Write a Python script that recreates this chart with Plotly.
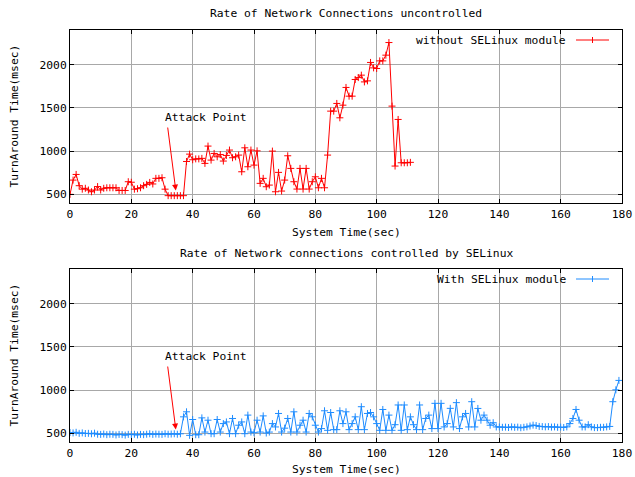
import plotly.graph_objects as go

# ---------------- data ----------------
top_time = list(range(0, 112))
top_values = [
    500, 665, 730, 600, 560, 570, 550, 530, 550, 590,
    550, 570, 576, 576, 576, 576, 545, 545, 545, 646,
    640, 560, 565, 576, 600, 615, 638, 620, 685, 685,
    692, 560, 485, 485, 485, 485, 485, 485, 880, 965,
    900, 910, 910, 916, 858, 1058, 896, 973, 934, 960,
    885, 950, 1012, 923, 934, 954, 761, 1038, 819, 1012,
    838, 1003, 627, 685, 588, 607, 1000, 530, 754, 538,
    665, 946, 800, 646, 561, 800, 561, 800, 561, 646,
    703, 576, 685, 576, 954, 1462, 1462, 1551, 1385, 1531,
    1736, 1635, 1635, 1828, 1850, 1878, 1800, 1812, 2025, 1962,
    1955, 2043, 2043, 2109, 2255, 1520, 827, 1366, 865, 865,
    865, 870,
]

bottom_time = list(range(0, 180))
bottom_values = [
    510, 505, 512, 500, 505, 498, 500, 495, 502, 490,
    488, 492, 485, 490, 488, 482, 488, 485, 480, 488,
    485, 490, 482, 488, 485, 490, 495, 488, 492, 490,
    488, 495, 490, 492, 495, 490, 495, 691, 749, 477,
    660, 484, 484, 679, 515, 652, 496, 496, 660, 515,
    613, 632, 496, 672, 496, 594, 632, 496, 711, 515,
    508, 652, 515, 702, 504, 515, 613, 574, 730, 515,
    560, 672, 515, 749, 515, 594, 652, 515, 730, 691,
    594, 515, 555, 761, 535, 741, 543, 543, 761, 613,
    749, 543, 613, 691, 543, 808, 543, 730, 741, 691,
    613, 535, 776, 535, 711, 535, 600, 828, 535, 828,
    543, 691, 600, 543, 828, 543, 672, 711, 555, 847,
    555, 847, 574, 613, 789, 574, 855, 555, 691, 730,
    574, 866, 574, 788, 652, 711, 652, 594, 623, 574,
    574, 570, 572, 568, 575, 570, 572, 565, 570, 575,
    585, 595, 590, 580, 578, 575, 578, 572, 575, 570,
    572, 568, 575, 613, 672, 776, 652, 574, 574, 600,
    574, 566, 566, 570, 570, 575, 580, 866, 1003, 1112,
]

x_ticks = [0, 20, 40, 60, 80, 100, 120, 140, 160, 180]
y_ticks = [500, 1000, 1500, 2000]

top_title = "Rate of Network Connections uncontrolled"
bottom_title = "Rate of Network connections controlled by SELinux"
top_legend = "without SELinux module"
bottom_legend = "With SELinux module"
x_title = "System Time(sec)"
y_title = "TurnAround Time(msec)"
attack_label = "Attack Point"
attack_text_pos = (30.2, 1390)
attack_arrow_tail = (31.8, 1290)
attack_arrow_head = (34.5, 545)

# ---------------- styling ----------------
W, H = 635, 477
FONT = "DejaVu Sans Mono"
FS = 11.3
RED = "#ff0000"
BLUE = "#1e8cff"

def px_x(p):
    return p / W

def px_y(p):
    return 1 - p / H

x_dom = [px_x(70), px_x(622)]
top_dom = [px_y(203), px_y(30)]
bot_dom = [px_y(442), px_y(269)]

fig = go.Figure()

fig.add_trace(go.Scatter(
    x=top_time, y=top_values, mode="lines+markers",
    line=dict(color=RED, width=1),
    marker=dict(symbol="cross-thin", size=5, line=dict(color=RED, width=1)),
    xaxis="x", yaxis="y", showlegend=False,
))
fig.add_trace(go.Scatter(
    x=bottom_time, y=bottom_values, mode="lines+markers",
    line=dict(color=BLUE, width=1),
    marker=dict(symbol="cross-thin", size=5, line=dict(color=BLUE, width=1)),
    xaxis="x2", yaxis="y2", showlegend=False,
))

axis_common = dict(
    showline=True, linecolor="black", linewidth=1, mirror="ticks",
    ticks="inside", ticklen=4, tickcolor="black",
    showgrid=True, gridcolor="#a8a8a8", gridwidth=1,
    zeroline=False, automargin=False,
    tickfont=dict(family=FONT, size=FS, color="black"),
)

fig.update_layout(
    width=W, height=H, autosize=False,
    margin=dict(l=0, r=0, t=0, b=0, pad=0, autoexpand=False),
    paper_bgcolor="white", plot_bgcolor="white",
    font=dict(family=FONT, size=FS, color="black"),
    xaxis=dict(domain=x_dom, range=[0, 180], tickvals=x_ticks, anchor="y", **axis_common),
    yaxis=dict(domain=top_dom, range=[400, 2400], tickvals=y_ticks, anchor="x", **axis_common),
    xaxis2=dict(domain=x_dom, range=[0, 180], tickvals=x_ticks, anchor="y2", **axis_common),
    yaxis2=dict(domain=bot_dom, range=[400, 2400], tickvals=y_ticks, anchor="x2", **axis_common),
    showlegend=False,
)

ann = []
# titles
ann.append(dict(text=top_title, x=px_x(346), y=px_y(14), xref="paper", yref="paper",
                showarrow=False, xanchor="center", yanchor="middle"))
ann.append(dict(text=bottom_title, x=px_x(346), y=px_y(253), xref="paper", yref="paper",
                showarrow=False, xanchor="center", yanchor="middle"))
# axis titles
for yc_x, yc_y in [(232, 116.5), (469, 355.5)]:
    ann.append(dict(text=x_title, x=px_x(346), y=px_y(yc_x), xref="paper", yref="paper",
                    showarrow=False, xanchor="center", yanchor="middle"))
    ann.append(dict(text=y_title, x=px_x(14), y=px_y(yc_y), xref="paper", yref="paper",
                    showarrow=False, xanchor="center", yanchor="middle", textangle=-90))
# legends (text part)
ann.append(dict(text=top_legend, x=px_x(568), y=px_y(40), xref="paper", yref="paper",
                showarrow=False, xanchor="right", yanchor="middle"))
ann.append(dict(text=bottom_legend, x=px_x(568), y=px_y(279), xref="paper", yref="paper",
                showarrow=False, xanchor="right", yanchor="middle"))
# attack point labels and arrows
for xr, yr in [("x", "y"), ("x2", "y2")]:
    ann.append(dict(text=attack_label, x=attack_text_pos[0], y=attack_text_pos[1],
                    xref=xr, yref=yr, showarrow=False, xanchor="left", yanchor="middle"))
    ann.append(dict(text="", x=attack_arrow_head[0], y=attack_arrow_head[1],
                    ax=attack_arrow_tail[0], ay=attack_arrow_tail[1],
                    xref=xr, yref=yr, axref=xr, ayref=yr,
                    showarrow=True, arrowhead=2, arrowsize=1.2, arrowwidth=1,
                    arrowcolor=RED, standoff=0, startstandoff=0))
fig.update_layout(annotations=ann)

# legend samples (line + cross)
shapes = []
for col, ly in [(RED, 40), (BLUE, 279)]:
    shapes.append(dict(type="line", xref="paper", yref="paper",
                       x0=px_x(576), x1=px_x(609), y0=px_y(ly), y1=px_y(ly),
                       line=dict(color=col, width=1)))
    shapes.append(dict(type="line", xref="paper", yref="paper",
                       x0=px_x(592.5), x1=px_x(592.5), y0=px_y(ly - 3), y1=px_y(ly + 3),
                       line=dict(color=col, width=1)))
fig.update_layout(shapes=shapes)

fig.write_html(
    "out.html",
    config={"displayModeBar": False, "responsive": False},
    post_script=(
        "document.body.style.margin='0';document.body.style.overflow='hidden';"
        "Plotly.relayout('{plot_id}', {width: 635, height: 477});"
    ),
)
